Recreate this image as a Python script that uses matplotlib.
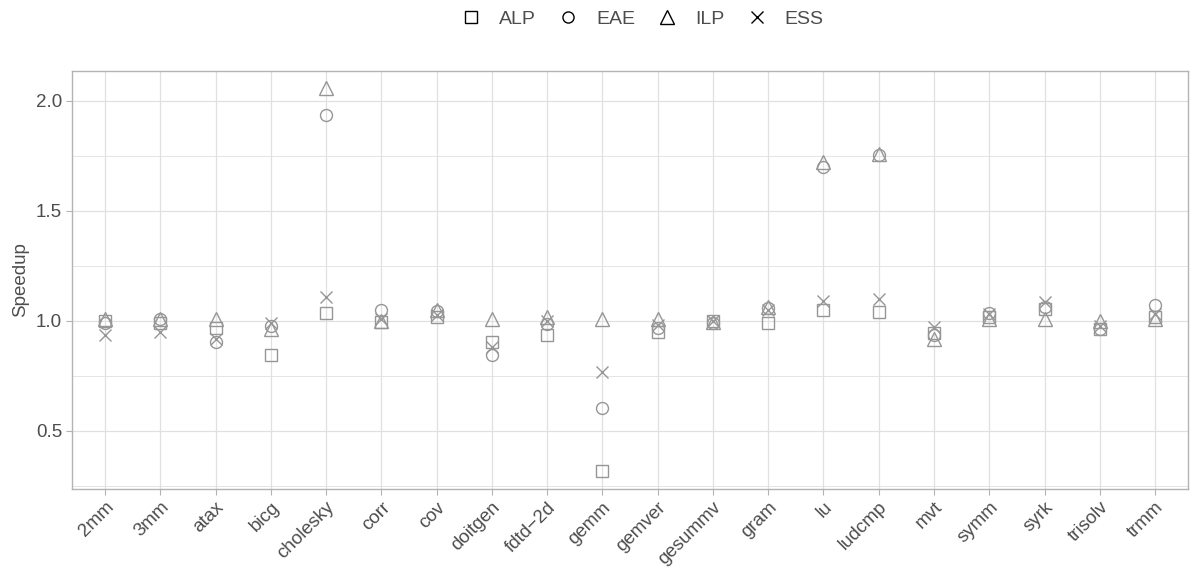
"""Speedup per benchmark for four techniques - point chart in a light ggplot-like theme."""

import matplotlib.pyplot as plt
from matplotlib.lines import Line2D

BENCHMARKS = ["2mm", "3mm", "atax", "bicg", "cholesky", "corr", "cov", "doitgen",
              "fdtd\u22122d", "gemm", "gemver", "gesummv", "gram", "lu", "ludcmp",
              "mvt", "symm", "syrk", "trisolv", "trmm"]

ALP = [1.00, 0.99, 0.967, 0.845, 1.038, 0.995, 1.02, 0.906, 0.936, 0.32,
       0.952, 1.00, 0.99, 1.05, 1.042, 0.945, 1.02, 1.055, 0.965, 1.02]
EAE = [0.99, 1.01, 0.903, 0.975, 1.936, 1.05, 1.045, 0.845, 0.985, 0.603,
       0.97, 0.99, 1.06, 1.698, 1.755, 0.935, 1.035, 1.065, 0.965, 1.073]
ILP = [1.01, 1.01, 1.01, 0.965, 2.057, 1.00, 1.05, 1.01, 1.02, 1.01,
       1.01, 0.995, 1.065, 1.724, 1.759, 0.92, 1.01, 1.01, 1.00, 1.01]
ESS = [0.936, 0.95, 0.92, 0.99, 1.11, 1.01, 1.025, 0.883, 1.00, 0.767,
       0.98, 1.00, 1.05, 1.092, 1.10, 0.974, 1.03, 1.085, 0.975, 1.03]

# name, values, marker, plot size, legend size
SERIES = [("ALP", ALP, "s", 8.6, 8.4), ("EAE", EAE, "o", 8.6, 8.0),
          ("ILP", ILP, "^", 10.5, 10.0), ("ESS", ESS, "x", 8.4, 8.4)]

POINT = "#969696"
GRID = "#e0e0e0"
BORDER = "#b3b3b3"
TEXT = "#4d4d4d"


def main():
    plt.rcParams.update({
        "font.family": ["Liberation Sans", "DejaVu Sans"],
        "font.size": 13.5,
    })

    fig = plt.figure(figsize=(11.99, 5.70), dpi=100)
    ax = fig.add_axes([0.060, 0.142, 0.931, 0.7335])

    x = list(range(len(BENCHMARKS)))
    for name, vals, marker, ms, _ in SERIES:
        ax.plot(x, vals, linestyle="none", marker=marker, markersize=ms,
                markerfacecolor="none", markeredgecolor=POINT,
                markeredgewidth=1.0, zorder=3)

    ax.set_xlim(-0.6, len(BENCHMARKS) - 1 + 0.6)
    ax.set_ylim(0.236, 2.136)
    ax.set_xticks(x)
    ax.set_xticklabels(BENCHMARKS, rotation=45, ha="right",
                       rotation_mode="anchor", color=TEXT)
    ax.set_yticks([0.5, 1.0, 1.5, 2.0])
    ax.set_yticklabels(["0.5", "1.0", "1.5", "2.0"], color=TEXT)
    ax.set_yticks([0.25, 0.75, 1.25, 1.75], minor=True)
    ax.set_ylabel("Speedup", color=TEXT, labelpad=5)

    ax.grid(True, which="major", color=GRID, linewidth=0.9, zorder=0)
    ax.grid(True, which="minor", axis="y", color=GRID, linewidth=0.6, zorder=0)
    ax.set_axisbelow(True)
    ax.tick_params(axis="both", which="major", color=BORDER, length=4, width=0.8, pad=3)
    ax.tick_params(axis="y", which="minor", length=0)
    for sp in ax.spines.values():
        sp.set_color(BORDER)
        sp.set_linewidth(1.0)

    handles = [Line2D([], [], linestyle="none", marker=m, markersize=lms,
                      markerfacecolor="none", markeredgecolor="black",
                      markeredgewidth=1.0, label=n)
               for n, _, m, _, lms in SERIES]
    leg = fig.legend(handles=handles, loc="center", bbox_to_anchor=(0.536, 0.966),
                     ncol=4, frameon=False, handlelength=1.0, handletextpad=0.94,
                     columnspacing=1.15, fontsize=14, borderpad=0)
    for t in leg.get_texts():
        t.set_color(TEXT)

    fig.savefig("out.png", dpi=100)


if __name__ == '__main__':
    main()
